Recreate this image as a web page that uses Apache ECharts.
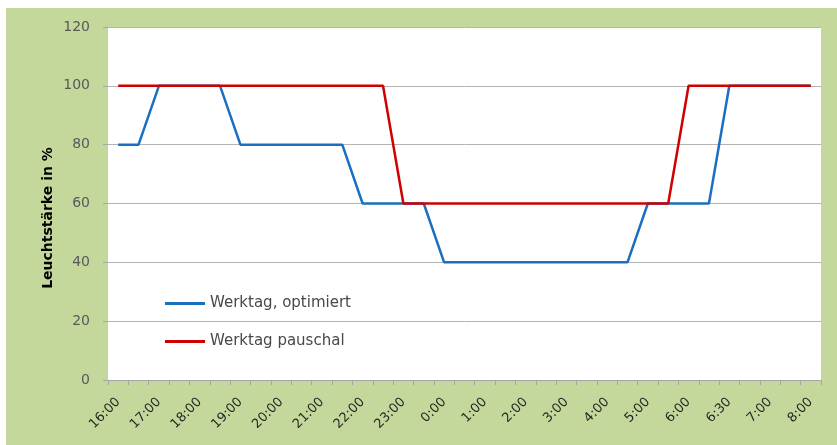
<!doctype html>
<html>
<head>
  <meta charset="UTF-8" />
  <title>Leuchtstärke</title>
  <script src="https://cdn.jsdelivr.net/npm/echarts@6/dist/echarts.min.js"></script>
  <style>
    html, body { margin: 0; padding: 0; background: #ffffff; }
    #chart { width: 837px; height: 445px; }
  </style>
</head>
<body>
  <div id="chart"></div>
  <script>
    // 35 half-hour-ish slots, every other one gets a label
    const categories = [
      "16:00", "16:30", "17:00", "17:30", "18:00", "18:30", "19:00", "19:30",
      "20:00", "20:30", "21:00", "21:30", "22:00", "22:30", "23:00", "23:30",
      "0:00", "0:30", "1:00", "1:30", "2:00", "2:30", "3:00", "3:30",
      "4:00", "4:30", "5:00", "5:30", "6:00", "6:15", "6:30", "6:45",
      "7:00", "7:30", "8:00"
    ];

    const optimiert = [
      80, 80, 100, 100, 100, 100, 80, 80, 80, 80, 80, 80, 60, 60, 60, 60,
      40, 40, 40, 40, 40, 40, 40, 40, 40, 40, 60, 60, 60, 60, 100, 100, 100, 100, 100
    ];

    const pauschal = [
      100, 100, 100, 100, 100, 100, 100, 100, 100, 100, 100, 100, 100, 100,
      60, 60, 60, 60, 60, 60, 60, 60, 60, 60, 60, 60, 60, 60,
      100, 100, 100, 100, 100, 100, 100
    ];

    const seriesNames = ["Werktag, optimiert", "Werktag pauschal"];
    const yTitle = "Leuchtstärke in %";

    const font = "'DejaVu Sans', Verdana, sans-serif";
    var chart = echarts.init(document.getElementById("chart"));

    var option = {
      backgroundColor: "#ffffff",
      animation: false,
      graphic: [
        {
          type: "rect",
          z: -10,
          shape: { x: 6, y: 8, width: 831, height: 437 },
          style: { fill: "#c3d89a" }
        },
        {
          type: "text",
          x: 48,
          y: 218,
          rotation: Math.PI / 2,
          style: {
            text: yTitle,
            fontFamily: font,
            fontSize: 14,
            fontWeight: "bold",
            fill: "#000000",
            align: "center",
            verticalAlign: "middle"
          }
        }
      ],
      grid: {
        left: 108,
        right: 16,
        top: 27,
        bottom: 65,
        show: true,
        backgroundColor: "#ffffff",
        borderWidth: 0
      },
      legend: {
        orient: "vertical",
        left: 165,
        top: 296,
        padding: 0,
        icon: "rect",
        itemWidth: 40,
        itemHeight: 3,
        itemGap: 23,
        textStyle: { fontFamily: font, fontSize: 15, color: "#484848" },
        data: seriesNames
      },
      xAxis: {
        type: "category",
        data: categories,
        boundaryGap: true,
        axisLine: { lineStyle: { color: "#a6a6a6", width: 1 } },
        axisTick: { show: true, interval: 0, length: 5, lineStyle: { color: "#a6a6a6" } },
        axisLabel: {
          interval: 1,
          rotate: 45,
          margin: 20,
          fontFamily: font,
          fontSize: 13,
          color: "#262626"
        },
        splitLine: { show: false }
      },
      yAxis: {
        type: "value",
        min: 0,
        max: 120,
        interval: 20,
        axisLine: { show: false },
        axisTick: { show: true, length: 5, lineStyle: { color: "#a6a6a6" } },
        axisLabel: {
          margin: 18,
          fontFamily: font,
          fontSize: 14,
          color: "#595959"
        },
        splitLine: { show: true, lineStyle: { color: "#b4b4b4", width: 1 } }
      },
      series: [
        {
          name: seriesNames[0],
          type: "line",
          data: optimiert,
          symbol: "none",
          lineStyle: { color: "#1a6fc0", width: 2.5 },
          itemStyle: { color: "#1a6fc0" }
        },
        {
          name: seriesNames[1],
          type: "line",
          data: pauschal,
          symbol: "none",
          lineStyle: { color: "#d00000", width: 2.5 },
          itemStyle: { color: "#d00000" }
        }
      ]
    };

    chart.setOption(option);
  </script>
</body>
</html>
